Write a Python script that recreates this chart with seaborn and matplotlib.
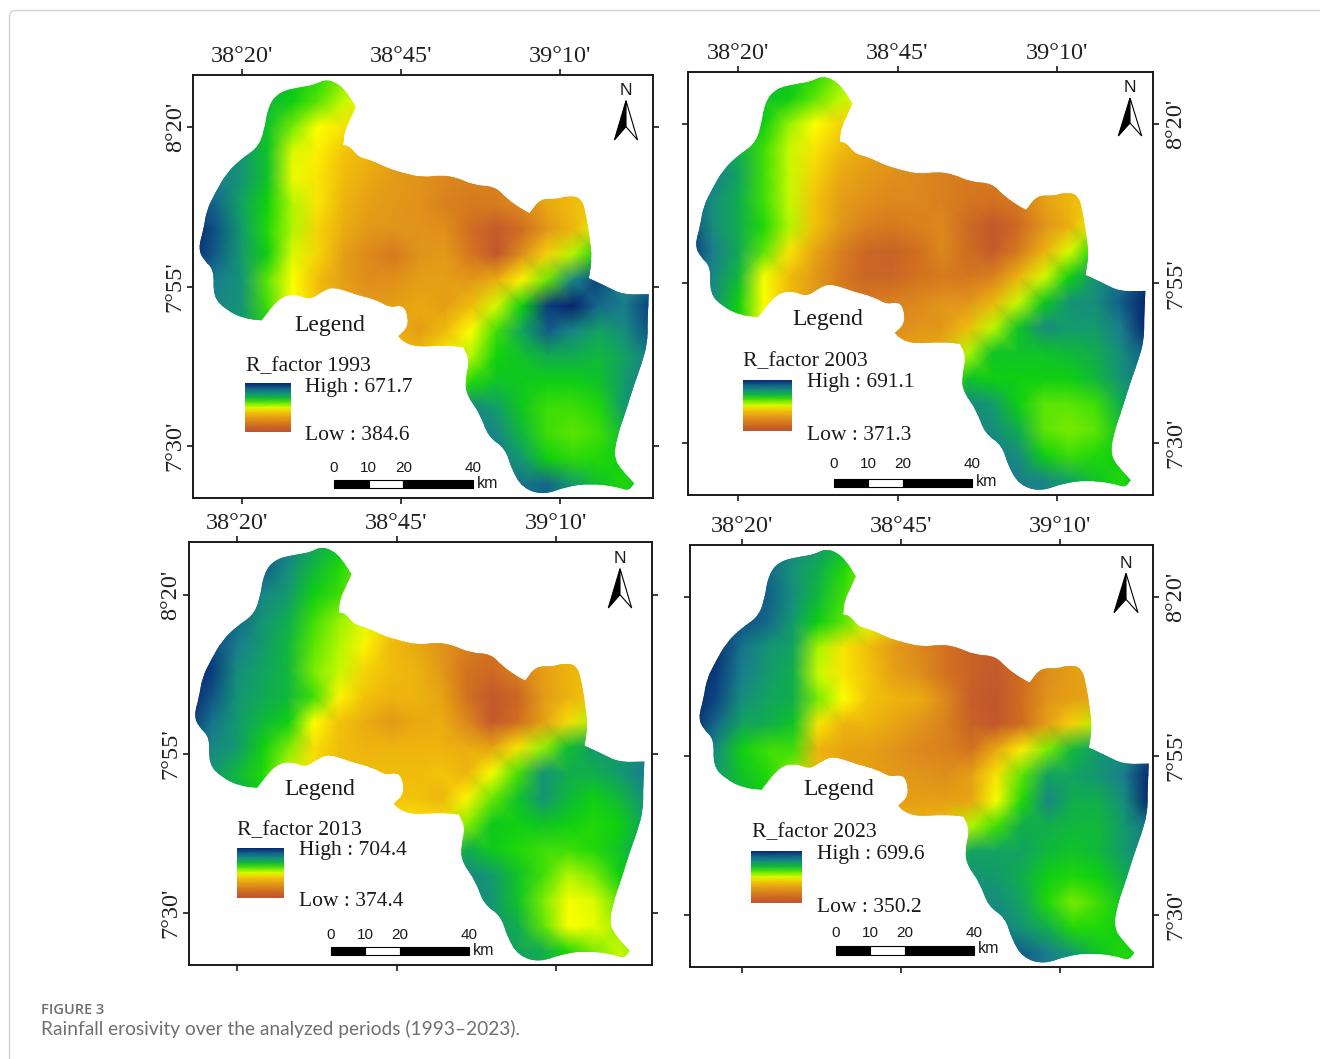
#%%
import numpy as np
import matplotlib
matplotlib.use("Agg")
import matplotlib.pyplot as plt
import seaborn as sns
from matplotlib.colors import LinearSegmentedColormap
from matplotlib.patches import Polygon, Rectangle, FancyBboxPatch
from matplotlib.path import Path

sns.set_theme(style="white")
plt.rcParams["font.family"] = ["Liberation Serif", "DejaVu Sans"]

#%% data: minutes past 38°00' E and 7°00' N (sharp corners are listed twice)
outline_lon = [33.1, 34.9, 36.4, 37.9, 37.9, 37.0, 36.1, 35.9, 35.9, 37.0, 38.3, 40.4, 42.8, 45.4, 48.5, 51.2, 53.8,
               56.4, 59.8, 61.6, 63.7, 65.2, 65.2, 66.9, 69.5, 71.0, 73.4, 74.2, 74.6, 75.0, 74.5, 74.5, 77.3, 79.9,
               83.9, 83.9, 83.7, 83.7, 82.8, 81.5, 80.2, 78.9, 78.4, 79.9, 81.6, 81.6, 80.7, 78.9, 74.7, 71.0, 67.4,
               64.2, 62.4, 61.4, 58.7, 57.4, 55.3, 55.1, 55.8, 54.8, 54.8, 51.7, 47.5, 45.4, 44.6, 44.6, 46.2, 45.9,
               44.9, 43.3, 41.2, 38.1, 34.4, 32.6, 30.7, 28.6, 26.0, 23.1, 23.1, 20.3, 17.6, 15.5, 15.7, 14.0, 13.2,
               14.0, 14.5, 15.8, 17.6, 20.0, 22.4, 23.5, 24.2, 26.0, 29.2, 31.3]
outline_lat = [87.5, 87.0, 85.6, 83.2, 83.2, 81.2, 79.3, 77.2, 77.2, 77.0, 75.3, 74.8, 73.6, 72.8, 72.1, 72.5, 72.1,
               70.9, 70.7, 68.8, 67.3, 66.5, 66.5, 68.8, 68.7, 69.2, 69.0, 65.4, 62.8, 59.4, 56.3, 56.3, 55.0, 53.7,
               53.8, 53.8, 49.2, 46.1, 42.9, 39.3, 35.1, 31.4, 28.0, 25.9, 24.1, 24.1, 22.9, 23.6, 24.1, 23.6, 22.3,
               23.3, 26.2, 29.6, 31.4, 35.1, 38.0, 40.3, 43.5, 45.5, 45.5, 45.8, 45.5, 46.3, 47.2, 47.2, 48.7, 51.3,
               52.1, 51.7, 52.9, 53.7, 55.0, 54.2, 52.9, 53.8, 53.4, 49.7, 49.7, 50.0, 51.3, 53.4, 57.6, 59.2, 61.0,
               63.9, 67.0, 69.6, 72.8, 75.1, 76.7, 79.1, 83.5, 85.6, 86.3, 86.6]

# grid: lon 12..84 and lat 88..20 every 4 minutes, value = % of the way from Low to High
r1993 = [
    [74,74,74,72,68,64,58,52,46,40,35,30,28,30,35,40,45,50,55],
    [76,76,76,70,66,60,52,48,42,36,30,26,26,30,35,40,45,50,55],
    [78,76,74,68,58,47,44,40,36,30,26,24,24,30,35,40,45,50,55],
    [82,80,78,68,50,45,40,36,32,27,24,22,22,28,34,40,45,50,55],
    [86,84,78,68,49,44,38,33,28,26,22,20,20,25,32,38,42,50,55],
    [94,88,74,65,54,44,36,30,27,25,20,18,19,23,33,38,40,50,55],
    [100,92,76,64,54,42,34,27,26,26,24,14,4,14,27,37,50,63,65],
    [100,90,76,66,50,42,30,22,18,26,28,17,3,24,42,54,67,75,80],
    [88,84,78,60,47,38,30,24,25,30,30,27,34,46,59,82,94,80,85],
    [84,82,78,62,47,40,32,28,30,33,30,38,51,66,96,100,88,84,95],
    [80,80,76,66,50,42,34,32,34,30,38,47,62,74,90,82,74,80,92],
    [78,78,76,68,54,44,38,36,38,38,45,54,65,68,72,72,70,74,84],
    [78,78,76,70,60,50,44,42,42,44,52,64,68,67,66,66,68,76,84],
    [78,78,76,72,66,60,56,54,54,60,74,82,75,67,62,62,64,76,84],
    [78,78,78,76,72,68,66,66,70,76,80,84,82,70,62,60,62,70,80],
    [80,80,80,78,76,74,72,72,76,80,84,86,84,76,66,63,64,66,75],
    [80,80,80,80,78,76,76,78,80,84,86,86,86,86,88,76,68,64,70],
    [80,80,80,80,78,76,76,78,80,84,86,88,88,88,90,80,70,66,70],
]
r2003 = [
    [72,72,72,70,68,64,58,52,46,40,35,30,28,30,35,40,45,50,55],
    [74,74,74,68,66,60,53,48,42,36,30,26,26,30,35,40,45,50,55],
    [76,74,72,66,56,47,42,38,34,28,24,22,22,26,32,38,42,50,55],
    [82,78,72,62,52,44,38,32,28,25,22,20,20,24,30,36,40,50,55],
    [88,84,74,62,52,42,33,28,25,23,20,18,18,22,30,36,40,50,55],
    [90,80,72,62,52,40,30,25,22,22,20,17,16,18,30,37,40,50,55],
    [94,80,72,64,54,40,27,20,18,20,22,12,3,12,26,35,49,62,65],
    [98,84,73,60,44,32,20,10,8,14,22,14,4,18,35,50,65,76,85],
    [90,82,70,48,38,28,18,10,10,16,18,17,20,36,51,66,78,86,95],
    [84,80,66,47,38,28,20,18,20,22,26,26,37,52,67,78,80,90,100],
    [80,78,66,48,38,28,22,22,24,26,27,38,53,68,80,76,76,84,100],
    [78,76,68,52,42,32,28,28,30,32,36,54,68,68,68,70,72,80,90],
    [78,76,72,60,50,44,40,40,42,46,54,68,66,66,66,66,70,78,86],
    [78,76,74,70,64,60,58,58,60,66,76,82,76,66,60,60,62,72,80],
    [78,78,78,76,72,68,66,66,70,76,80,82,80,72,60,58,60,68,76],
    [80,80,80,78,76,74,74,74,76,80,84,86,84,80,66,62,64,66,72],
    [80,80,80,80,78,76,76,78,80,82,84,84,84,84,82,74,68,64,70],
    [80,80,80,80,78,76,76,78,80,82,84,84,84,84,82,74,68,64,70],
]
r2013 = [
    [92,92,92,92,84,74,68,62,55,48,40,32,28,30,35,40,45,50,55],
    [94,94,92,90,80,70,64,58,50,44,36,28,26,30,35,40,45,50,55],
    [96,94,90,82,76,66,62,55,46,38,30,24,22,28,34,38,42,50,55],
    [98,96,88,78,72,62,56,50,42,36,28,22,18,24,32,36,40,50,55],
    [98,94,84,76,70,60,54,46,38,33,26,20,16,22,30,36,40,50,55],
    [100,96,80,74,70,58,52,42,38,36,28,16,12,20,30,36,38,50,55],
    [100,92,78,73,70,62,46,40,36,36,32,16,3,10,28,36,40,55,65],
    [98,86,76,70,66,47,40,34,28,33,34,22,4,14,30,43,55,68,78],
    [88,82,76,66,58,43,38,36,36,36,36,34,31,44,56,69,76,76,82],
    [80,78,70,64,52,44,38,38,38,38,40,36,48,61,78,72,72,76,84],
    [78,76,72,66,54,46,40,40,40,40,37,46,59,68,78,70,66,70,80],
    [78,76,72,68,58,50,44,44,44,44,44,57,67,66,68,66,64,66,74],
    [78,76,74,72,64,56,52,50,50,54,62,72,67,64,62,62,64,68,74],
    [78,76,76,74,70,66,62,62,66,72,78,82,76,68,62,54,58,66,72],
    [78,78,78,76,74,72,70,70,72,76,78,80,78,68,58,48,50,60,68],
    [78,78,78,76,74,72,72,72,74,76,76,76,76,72,60,47,49,56,62],
    [78,78,78,76,74,72,72,72,74,76,76,76,76,74,72,64,58,52,58],
    [78,78,78,76,74,72,72,72,74,76,76,76,76,74,72,64,58,52,58],
]
r2023 = [
    [92,92,92,90,82,76,70,64,55,46,38,30,25,28,32,36,40,50,55],
    [94,94,92,88,78,72,64,56,48,40,30,22,18,24,30,34,38,50,55],
    [96,94,92,90,80,70,62,54,44,34,24,16,12,20,28,32,36,50,55],
    [98,96,92,88,76,66,60,50,40,30,20,12,8,16,26,32,36,50,55],
    [100,98,86,78,74,55,44,38,28,22,16,8,5,14,25,32,36,50,55],
    [100,96,84,76,72,52,44,40,30,24,16,8,4,14,24,30,32,50,55],
    [100,94,80,74,72,58,47,40,36,34,22,6,2,14,26,30,32,46,60],
    [100,88,74,72,68,44,36,36,32,26,20,8,3,14,30,42,55,66,80],
    [90,80,66,62,62,36,32,30,26,22,20,16,33,45,58,70,76,80,90],
    [84,76,68,64,56,38,32,30,28,26,24,30,44,60,74,74,78,84,100],
    [80,76,70,66,56,42,34,32,30,30,30,32,48,64,82,72,72,80,100],
    [78,76,72,68,60,46,40,38,36,36,40,54,62,72,72,70,70,76,86],
    [78,76,74,72,66,56,50,48,48,52,60,74,74,74,70,68,70,76,82],
    [78,76,76,74,72,68,66,66,68,72,76,78,76,72,66,64,66,72,78],
    [80,78,78,76,74,74,74,74,76,78,78,80,80,74,64,58,62,68,74],
    [82,80,80,78,76,76,76,76,78,80,82,84,84,78,72,64,64,66,70],
    [84,84,84,82,80,80,80,80,82,84,86,88,90,90,84,76,68,64,68],
    [84,84,84,82,80,80,80,80,82,84,86,88,90,90,84,76,68,64,68],
]
years = [1993, 2003, 2013, 2023]
grids = [r1993, r2003, r2013, r2023]
high = [671.7, 691.1, 704.4, 699.6]
low = [384.6, 371.3, 374.4, 350.2]
legend_ramp = [100, 90, 80, 70, 60, 50, 40, 30, 20, 10, 0]
lon_ticks = [20, 45, 70]
lat_ticks = [80, 55, 30]
lon_labels = ["38°20'", "38°45'", "39°10'"]
lat_labels = ["8°20'", "7°55'", "7°30'"]
scale_km = [0, 10, 20, 40]

#%% layout, all in picture pixels
W, H = 1320, 1059
boxes = [(193.3, 75, 653, 498), (688.3, 72, 1153.3, 494.7), (189, 542, 651.7, 964.7), (690, 545, 1153.3, 966.7)]
anchors = [(241.7, 127.3), (738.3, 124), (237.3, 594.7), (741.7, 596.7)]  # px of lon 20', lat 80'
px_per_min = 6.37
swatches = [(245, 383.3, 291, 432), (742.7, 379.7, 792, 431.3), (236.7, 848, 284.3, 898), (751.3, 850.7, 801.7, 903.3)]
legend_xy = [(330, 325), (827.7, 319.5), (319.3, 789.5), (838.3, 789.5)]
title_xy = [(246, 366.5), (743.3, 362), (237.3, 831), (751.7, 832.5)]
high_xy = [(305, 387.5), (806.7, 383), (299, 851), (816.7, 854.5)]
low_xy = [(305, 435.5), (806.7, 435.5), (299, 902), (816.7, 907.5)]
bars = [(334, 472.7, 480, 488.3, 467.7, 483), (834, 971.7, 478.7, 487.3, 464, 481.3),
        (330.7, 469, 946.7, 955.3, 934.7, 950.3), (835.7, 973.7, 945.7, 954.7, 932.7, 948.3)]
norths = [(626, 90.7, 100.7, 140, 126.7, 11.6), (1130, 87, 98, 136, 123, 11.7),
          (620, 558.7, 568.7, 608, 594.7, 11.7), (1126, 563.3, 573.3, 612.7, 599.3, 12)]

cmap = LinearSegmentedColormap.from_list("rain", [
    (0.00, "#bf5230"), (0.15, "#d2701f"), (0.25, "#e0921c"), (0.32, "#e8a512"), (0.40, "#f2c30a"),
    (0.47, "#ffff00"), (0.55, "#a8f500"), (0.65, "#0fd40a"), (0.75, "#129e68"), (0.84, "#1b7f8e"),
    (0.92, "#0f5488"), (1.00, "#08246e")])

fig = plt.figure(figsize=(W / 100, H / 100), dpi=100)


def rect(l, t, r, b):
    return [l / W, 1 - b / H, (r - l) / W, (b - t) / H]


def outline_path():
    # outline points as curve controls, so the edge is round like the source raster
    pts = np.c_[(np.array(outline_lon) - 12) / 4, (88 - np.array(outline_lat)) / 4]
    mids = (pts + np.roll(pts, -1, axis=0)) / 2
    verts = [mids[-1]]
    codes = [Path.MOVETO]
    for p, m in zip(pts, mids):
        verts += [p, m]
        codes += [Path.CURVE3, Path.CURVE3]
    return Path(verts, codes)


for i, (year, grid) in enumerate(zip(years, grids)):
    l, t, r, b = boxes[i]
    x20, y80 = anchors[i]
    ax = fig.add_axes(rect(l, t, r, b))
    values = low[i] + np.array(grid, dtype=float) / 100 * (high[i] - low[i])
    sns.heatmap(values, ax=ax, cmap=cmap, vmin=low[i], vmax=high[i], cbar=False,
                xticklabels=False, yticklabels=False, shading="gouraud")
    # same values, colour-mapped after smoothing so the yellow fronts stay clean
    im = ax.imshow(values, cmap=cmap, vmin=low[i], vmax=high[i], aspect="auto", interpolation="bicubic",
                   interpolation_stage="data", extent=(-0.5, values.shape[1] - 0.5, values.shape[0] - 0.5, -0.5))
    path = outline_path()
    ax.collections[0].set_clip_path(path, ax.transData)
    im.set_clip_path(path, ax.transData)
    ax.set_xlim((20 + (l - x20) / px_per_min - 12) / 4, (20 + (r - x20) / px_per_min - 12) / 4)
    ax.set_ylim((88 - (80 - (b - y80) / px_per_min)) / 4, (88 - (80 - (t - y80) / px_per_min)) / 4)
    for sp in ax.spines.values():
        sp.set_visible(True)
        sp.set_color("#1a1a1a")
        sp.set_linewidth(1.4)
    ax.set_xticks([(v - 12) / 4 for v in lon_ticks])
    ax.set_xticklabels(lon_labels, fontsize=17.5, color="#222222")
    ax.set_yticks([(88 - v) / 4 for v in lat_ticks])
    ax.set_yticklabels(lat_labels, fontsize=17.5, color="#222222", rotation=90, va="center")
    right_side = i % 2 == 1
    ax.tick_params(axis="x", top=True, bottom=True, labeltop=True, labelbottom=False, length=4, width=1.2,
                   color="#1a1a1a", pad=1.5, rotation=0)
    ax.tick_params(axis="y", left=True, right=True, labelleft=not right_side, labelright=right_side, length=4,
                   width=1.2, color="#1a1a1a", pad=4.5 if right_side else 1.5)

    # legend swatch
    sl, st, sr, sb = swatches[i]
    sax = fig.add_axes(rect(sl, st, sr, sb))
    sns.heatmap(np.column_stack([legend_ramp, legend_ramp]), ax=sax, cmap=cmap, vmin=0, vmax=100, cbar=False,
                xticklabels=False, yticklabels=False, shading="gouraud")
    sax.set_xlim(0, 1)
    sax.set_ylim(len(legend_ramp) - 1, 0)

# overlay in picture pixels for the map furniture
ov = fig.add_axes([0, 0, 1, 1], facecolor="none")
ov.set_xlim(0, W)
ov.set_ylim(H, 0)
ov.axis("off")
ov.add_patch(FancyBboxPatch((9.5, 10.5), 1500, 1300, boxstyle="round,pad=0,rounding_size=6", fc="none",
                            ec="#d2d2d2", lw=1.0))

for i, year in enumerate(years):
    ov.text(*legend_xy[i], "Legend", fontsize=17, ha="center", va="center", color="#1a1a1a")
    ov.text(*title_xy[i], f"R_factor {year}", fontsize=15.6, ha="left", va="center", color="#1a1a1a")
    ov.text(*high_xy[i], f"High : {high[i]}", fontsize=15.5, ha="left", va="center", color="#1a1a1a")
    ov.text(*low_xy[i], f"Low : {low[i]}", fontsize=15.5, ha="left", va="center", color="#1a1a1a")

    # scale bar
    x0, x1, yt, yb, ylab, ykm = bars[i]
    per_km = (x1 - x0) / 40
    for k0, k1, c in [(0, 10, "black"), (10, 20, "white"), (20, 40, "black")]:
        ov.add_patch(Rectangle((x0 + k0 * per_km, yt), (k1 - k0) * per_km, yb - yt, fc=c, ec="black", lw=0.8))
    for k in scale_km:
        ov.text(x0 + k * per_km, ylab, str(k), fontsize=11, family="Liberation Sans", ha="center", va="center",
                color="#1a1a1a")
    ov.text(x1 + 4, ykm, "km", fontsize=11.5, family="Liberation Sans", ha="left", va="center", color="#1a1a1a")

    # north arrow
    nx, ny, apex, base, notch, half = norths[i]
    ov.text(nx, ny, "N", fontsize=12.5, family="Liberation Sans", ha="center", va="center", color="#1a1a1a")
    ov.add_patch(Polygon([(nx, apex), (nx, notch), (nx - half, base)], fc="black", ec="black", lw=0.8))
    ov.add_patch(Polygon([(nx, apex), (nx, notch), (nx + half, base)], fc="white", ec="black", lw=0.8))

ov.text(41, 1010, "FIGURE 3", fontsize=10.5, family="Open Sans", fontweight="semibold", color="#6e6e6e",
        ha="left", va="center")
ov.text(41, 1028.5, "Rainfall erosivity over the analyzed periods (1993–2023).", fontsize=13.8, family="Lato",
        color="#707070", ha="left", va="center")

fig.savefig("out.png", dpi=100)
